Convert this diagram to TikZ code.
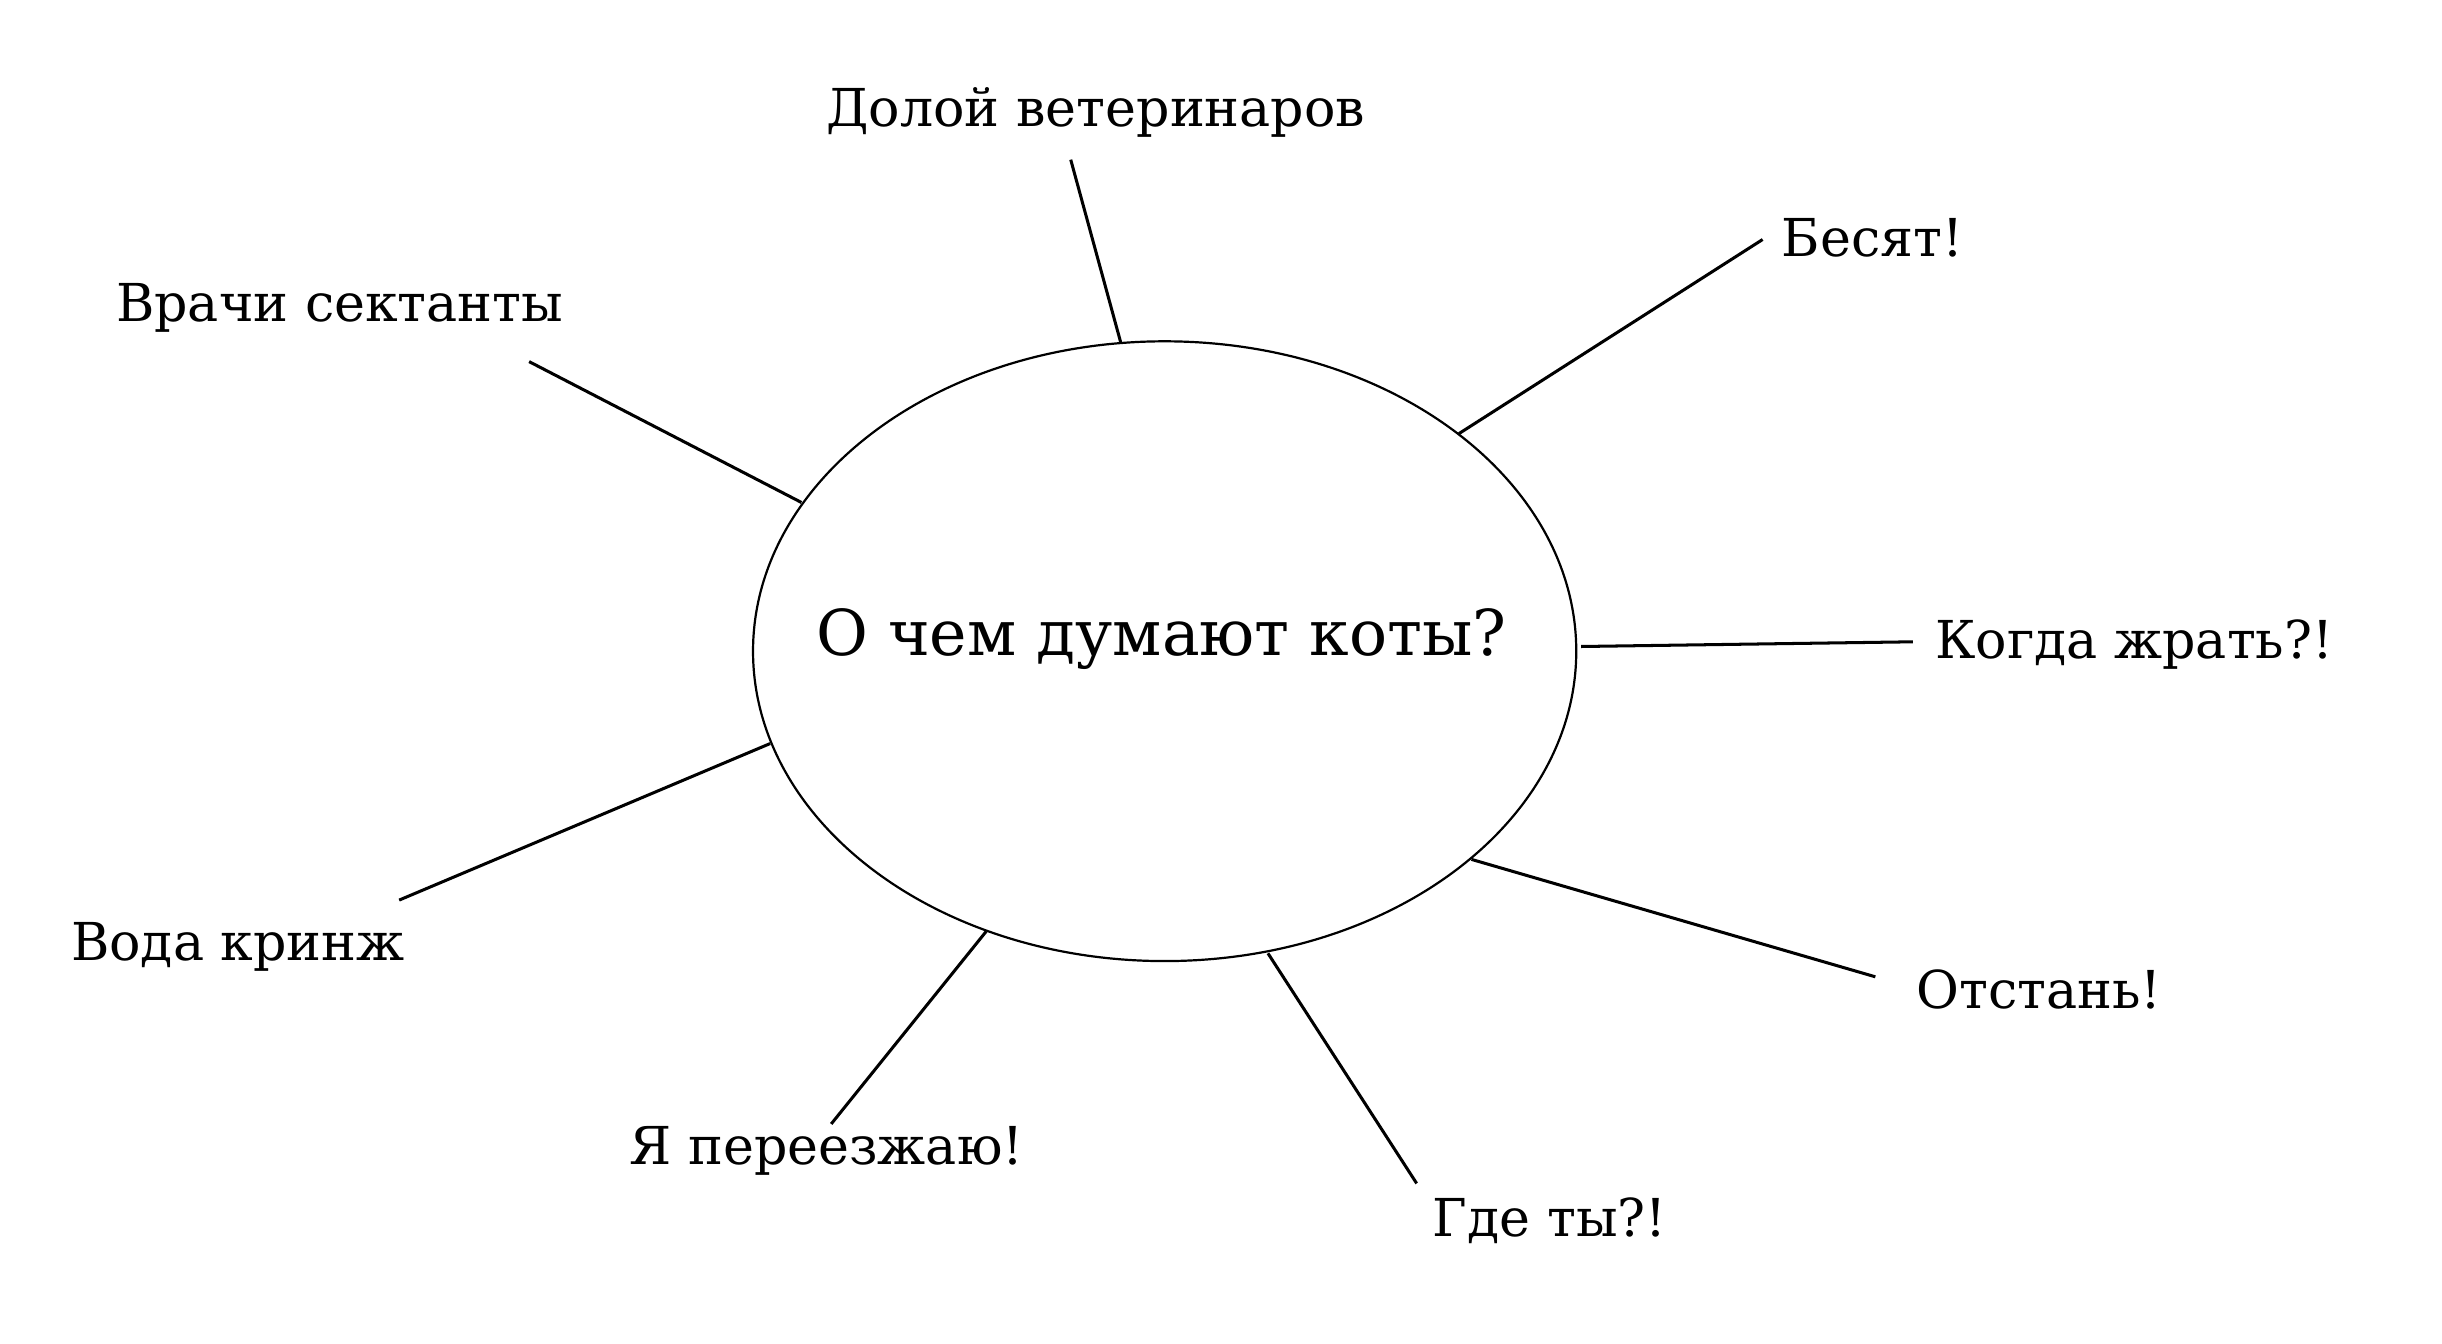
\documentclass[tikz,border=0pt]{standalone}
\usepackage{fontspec}
\usetikzlibrary{shapes.geometric}
\setmainfont{DejaVu Serif}
\begin{document}
\begin{tikzpicture}[x=0.02cm,y=-0.02cm,
  lbl/.style={font=\fontsize{19}{22}\selectfont},
  ln/.style={line width=1.1pt}]
\useasboundingbox (0,0) rectangle (1560,858);
\node[draw,ellipse,line width=0.8pt,minimum width=10.52cm,minimum height=7.92cm,inner sep=0pt] (c) at (744,416) {};
\node[font=\fontsize{23}{26}\selectfont] (t) at (742,408) {О чем думают коты?};
\node[lbl] (a) at (700,72) {Долой ветеринаров};
\node[lbl,anchor=west] (b) at (1132,152) {Бесят!};
\node[lbl,anchor=west] (k) at (1230,412) {Когда жрать?!};
\node[lbl,anchor=west] (o) at (1218,632) {Отстань!};
\node[lbl] (g) at (990,780) {Где ты?!};
\node[lbl] (ya) at (528,735) {Я переезжаю!};
\node[lbl] (v) at (152,605) {Вода кринж};
\node[lbl] (vr) at (217,197) {Врачи сектанты};
\coordinate (a1) at (716,219); \coordinate (a2) at (684,102);
\coordinate (b1) at (932,277); \coordinate (b2) at (1126,153);
\coordinate (k1) at (1010,413); \coordinate (k2) at (1222,410);
\coordinate (o1) at (940,549); \coordinate (o2) at (1198,624);
\coordinate (g1) at (810,609); \coordinate (g2) at (905,756);
\coordinate (y1) at (630,595); \coordinate (y2) at (531,718);
\coordinate (v1) at (492,475); \coordinate (v2) at (255,575);
\coordinate (r1) at (512,321); \coordinate (r2) at (338,231);
\foreach \p in {a,b,k,o,g,y,v,r} \draw[ln] (\p1) -- (\p2);
\end{tikzpicture}
\end{document}
